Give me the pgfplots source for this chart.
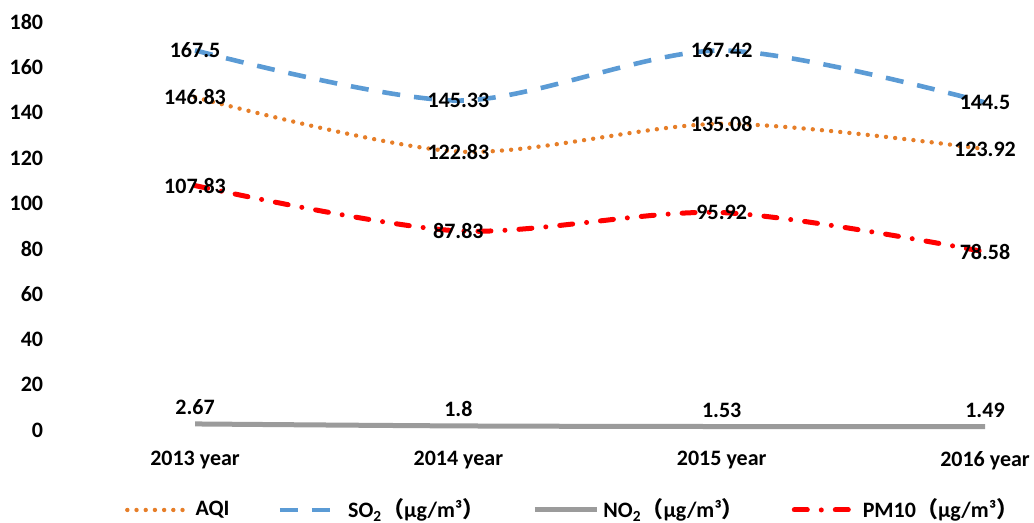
\documentclass[border=0pt]{standalone}
\usepackage{pgfplots}
\pgfplotsset{compat=1.18}
\usepackage{fontspec}
\setmainfont{Carlito}
\newfontfamily\cjk{Noto Sans CJK SC}

\definecolor{aqi}{RGB}{230,126,40}
\definecolor{so2}{RGB}{91,155,213}
\definecolor{no2}{RGB}{155,155,155}
\definecolor{pm10}{RGB}{255,0,0}

\newcommand{\ug}{{\cjk （}µg/m³{\cjk ）}}
\newcommand{\lbl}{\fontsize{11}{13}\selectfont\bfseries}

\begin{document}
\begin{tikzpicture}
\begin{axis}[
    scale only axis,
    width=467.4pt, height=204pt,
    xmin=-0.55, xmax=3,
    ymin=0, ymax=180,
    ytick={0,20,...,180},
    xtick={0,1,2,3},
    xticklabels={2013 year,2014 year,2015 year,2016 year},
    axis line style={draw=none},
    major tick length=0pt,
    ticklabel style={font=\lbl},
    xticklabel style={yshift=-7pt},
    /pgf/number format/assume math mode=true,
    clip=false,
    nodes near coords,
    every node near coord/.append style={anchor=center, text=black, font=\lbl,
        /pgf/number format/fixed, /pgf/number format/precision=2},
    legend columns=4,
    legend style={draw=none, fill=none, font=\lbl,
        at={(axis description cs:0.56,-0.196)}, anchor=center,
        /tikz/every even column/.append style={column sep=22pt}},
    legend image code/.code={\draw[#1] (0pt,0pt) -- (31pt,0pt);},
]
\addplot[aqi, line width=2.2pt, line cap=round, dash pattern=on 0pt off 4.6pt, smooth]
    coordinates {(0,146.83) (1,122.83) (2,135.08) (3,123.92)};
\addlegendentry{AQI}
\addplot[so2, line width=2.3pt, dash pattern=on 9pt off 7pt, smooth]
    coordinates {(0,167.5) (1,145.33) (2,167.42) (3,144.5)};
\addlegendentry{SO\textsubscript{2}\ug}
\addplot[no2, line width=2.5pt, smooth,
    every node near coord/.append style={anchor=south}]
    coordinates {(0,2.67) (1,1.8) (2,1.53) (3,1.49)};
\addlegendentry{NO\textsubscript{2}\ug}
\addplot[pm10, line width=2.5pt, line cap=round,
    dash pattern=on 6.5pt off 7pt on 0pt off 7pt, smooth]
    coordinates {(0,107.83) (1,87.83) (2,95.92) (3,78.58)};
\addlegendentry{PM10\ug}
\coordinate (o) at (axis cs:-0.55,0);
\end{axis}
\pgfresetboundingbox
\path (o) ++(-25.1pt,-46.5pt) rectangle ++(517pt,261.5pt);
\end{tikzpicture}
\end{document}
